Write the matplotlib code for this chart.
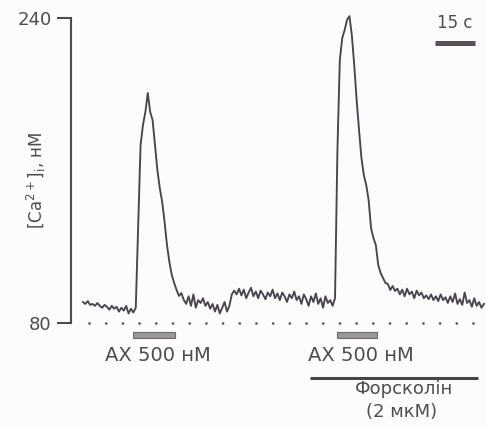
import numpy as np
import matplotlib
matplotlib.use("Agg")
import matplotlib.pyplot as plt
from matplotlib.patches import Rectangle

# --- дані ---
dt = 0.9  # інтервал між точками, с

# [Ca2+]i, нМ
ca = [91, 90, 91.5, 89.5, 90, 89, 90.5, 89, 88, 89.5,
      88.5, 87, 89, 87.5, 88.5, 86, 88, 86.5, 89, 85,
      87.5, 85.5, 88, 130, 173.4, 183.9, 190.7, 200.7, 190.7, 186.5,
      173.4, 160.3, 150.8, 143.5, 133, 120.9, 112, 105.2, 101, 97.3,
      94.2, 95.7, 92.1, 90, 94, 89, 95, 88, 92, 90.5,
      93, 89, 91, 87.5, 90, 86, 89.5, 85, 88, 91,
      86, 89, 95, 97, 95, 98, 94.5, 97.5, 93, 96,
      98.5, 94, 96.5, 93, 97, 95, 92.5, 96, 94, 97.5,
      93, 95.5, 92, 96, 94, 91, 95, 93, 96.5, 92,
      94, 90, 95, 92.5, 89, 94, 91, 95.5, 90, 93,
      88, 94, 90.5, 92, 89, 93, 170.8, 218, 229.5, 233.7,
      239, 241, 231, 215.4, 197, 181.3, 166.6, 157.6, 152.4, 144.5,
      129.8, 124.6, 120.9, 110.4, 106.2, 103.6, 101, 100.5, 97.3, 99.4,
      96.8, 98, 95, 97.5, 94, 98, 95, 96.5, 93, 97,
      94.5, 96, 93, 94.5, 92.5, 95, 92, 94, 91.5, 95,
      92, 93.5, 90.5, 94, 91, 95.5, 90, 92.5, 89.5, 96,
      90.5, 92, 88.5, 93, 89, 91, 88, 90]

t = np.arange(len(ca)) * dt

ax_on = [18.75, 95.25]     # початок аплікації АХ, с
ax_off = [34.5, 110.25]    # кінець аплікації АХ, с
forsk = [85.0, 148.0]      # форсколін, с
y_ticks = [80, 240]
scale_s = 15

trace_col = '#4b4350'
text_col = '#4d4d4d'
bg = '#fbfcfb'

fig = plt.figure(figsize=(4.86, 4.28), dpi=100, facecolor=bg)
ax = fig.add_axes([0, 0, 1, 1], facecolor=bg)
ax.set_xlim(-31.1, 151.1)
ax.set_ylim(24.91, 249.46)

# запис
ax.plot(t, ca, color=trace_col, lw=1.35)

# пунктир на рівні 80 нМ
ax.plot([2.25, 150.7], [80, 80], color='#5a5a5a', lw=2.0,
        linestyle=(0, (0.01, 6.0)), dash_capstyle='round')

# вісь Y
for s in ['top', 'right', 'bottom']:
    ax.spines[s].set_visible(False)
ax.spines['left'].set_position(('data', -4.5))
ax.spines['left'].set_bounds(80, 240)
ax.spines['left'].set_color(text_col)
ax.spines['left'].set_linewidth(1.5)
ax.set_xticks([])
ax.set_yticks(y_ticks)
ax.tick_params(axis='y', direction='out', length=10, width=1.5,
               color=text_col, labelcolor=text_col, labelsize=13, pad=4)
ax.set_ylabel(r'[Ca$^{2+}$]$_\mathrm{i}$, нМ', fontsize=12, color=text_col)
ax.yaxis.set_label_coords(0.099, 0.579)

# аплікації АХ
for on, off in zip(ax_on, ax_off):
    ax.add_patch(Rectangle((on, 72.1), off - on, 3.2, facecolor='#9a969a',
                           edgecolor='#6e6a6e', lw=0.8))
    ax.text((on + off) / 2 + 1.5, 63.2, 'AX 500 нМ', ha='center', va='center',
            fontsize=14, color=text_col)

# форсколін
ax.plot(forsk, [51.1, 51.1], color='#4a4448', lw=2.2, solid_capstyle='butt')
ax.text(120.4, 45.2, 'Форсколін', ha='center', va='center', fontsize=13, color=text_col)
ax.text(119.6, 33.3, '(2 мкМ)', ha='center', va='center', fontsize=13, color=text_col)

# масштаб часу
ax.plot([132, 132 + scale_s], [226.9, 226.9], color='#5a5058', lw=3.6, solid_capstyle='butt')
ax.text(139.5, 237.4, '15 c', ha='center', va='center', fontsize=12, color=text_col)

fig.savefig('out.png', dpi=100, facecolor=bg)
